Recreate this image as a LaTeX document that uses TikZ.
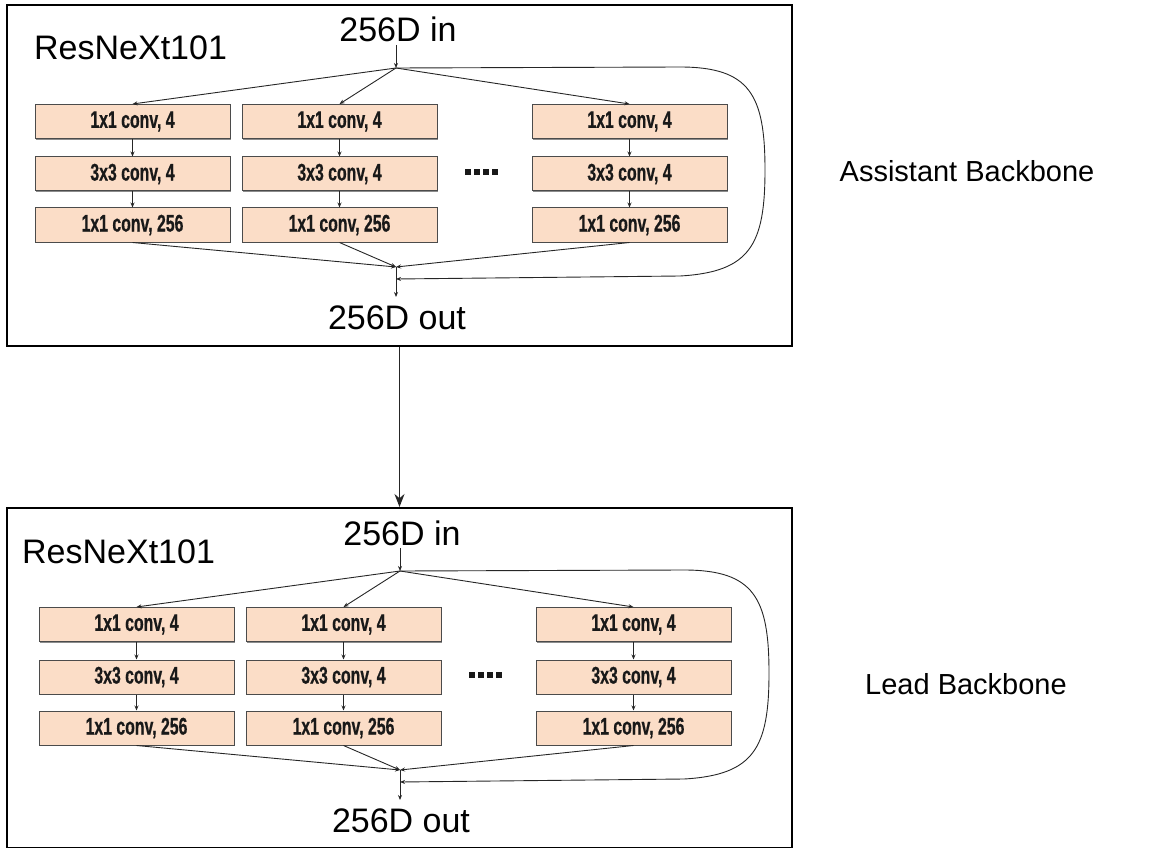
\documentclass[tikz,border=0pt]{standalone}
\usepackage{fontspec}
\setmainfont{Liberation Sans}
\newfontfamily\condfont[FakeStretch=0.66,FakeBold=0.6]{Liberation Sans Bold}
\usetikzlibrary{arrows.meta,shadows}
\definecolor{peach}{RGB}{251,221,199}
\definecolor{boxline}{RGB}{75,75,75}
\begin{document}
\begin{tikzpicture}[x=1pt,y=-1pt,
  frame/.style={draw=black,line width=2pt,inner sep=0pt,fill=none},
  convbox/.style={draw=boxline,fill=peach,line width=1pt,minimum width=195pt,minimum height=34pt,inner sep=0pt,
    font=\condfont\fontsize{24}{26}\selectfont,text=black!90,
    drop shadow={shadow xshift=1pt,shadow yshift=-1.2pt,opacity=0.45,fill=black}},
  biglabel/.style={font=\fontsize{34}{38}\selectfont,inner sep=0pt,anchor=base},
  sidelabel/.style={font=\fontsize{29}{34}\selectfont,inner sep=0pt,anchor=base},
  flow/.style={draw=black!85,line width=0.9pt,-{Stealth[length=5pt,width=4pt]}},
  bigarrow/.style={draw=black!85,line width=1.4pt,-{Stealth[length=13pt,width=10pt]}},
  dotsq/.style={fill=black!90,draw=none,minimum size=6pt,inner sep=0pt}
]
\useasboundingbox (0,0) rectangle (1152,848);

% frames
\node[frame,minimum width=785pt,minimum height=341pt] (frameA) at (399.5,175.5) {};
\node[frame,minimum width=785pt,minimum height=340pt] (frameB) at (399.5,678) {};
\draw[bigarrow] (frameA.south) -- (frameB.north);

% side labels
\node[sidelabel] (sideA) at (967,182) {Assistant Backbone};
\node[sidelabel] (sideB) at (966,694) {Lead Backbone};

\foreach \b/\dx/\dy/\rx in {A/0/0/34, B/4/503/22}{
\begin{scope}[shift={(\dx,\dy)}]
  \node[biglabel] (in\b) at (398,42) {256D in};
  \node[biglabel,anchor=base west] (res\b) at (\rx-\dx,60) {ResNeXt101};
  \node[biglabel] (out\b) at (397,329) {256D out};
  \coordinate (split\b) at (396,68);
  \coordinate (merge\b) at (396,267);
  \coordinate (join\b) at (396,279);
  \coordinate (outtip\b) at (396,297);
  \coordinate (intop\b) at (396,45);
  % boxes
  \foreach \c/\x in {1/132.5,2/339.5,3/629.5}{
    \node[convbox] (r1c\c\b) at (\x,121.5) {1x1 conv, 4};
    \node[convbox] (r2c\c\b) at (\x,174) {3x3 conv, 4};
    \node[convbox] (r3c\c\b) at (\x,225) {1x1 conv, 256};
    \draw[flow] (r1c\c\b) -- (r2c\c\b);
    \draw[flow] (r2c\c\b) -- (r3c\c\b);
    \draw[flow] (split\b) -- (r1c\c\b.north);
    \draw[flow] (r3c\c\b.south) -- (merge\b);
  }
  % dots
  \foreach \k in {0,1,2,3}{
    \node[dotsq] (dot\k\b) at (468+9*\k,172) {};
  }
  % input / output
  \draw[flow] (intop\b) -- (split\b);
  \draw[flow] (merge\b) -- (outtip\b);
  % skip connection
  \draw[flow] (split\b) -- (680,67) .. controls (750,67) and (765,95) .. (765,170)
     .. controls (765,245) and (750,272) .. (680,276) -- (join\b);
\end{scope}
}
\end{tikzpicture}
\end{document}
